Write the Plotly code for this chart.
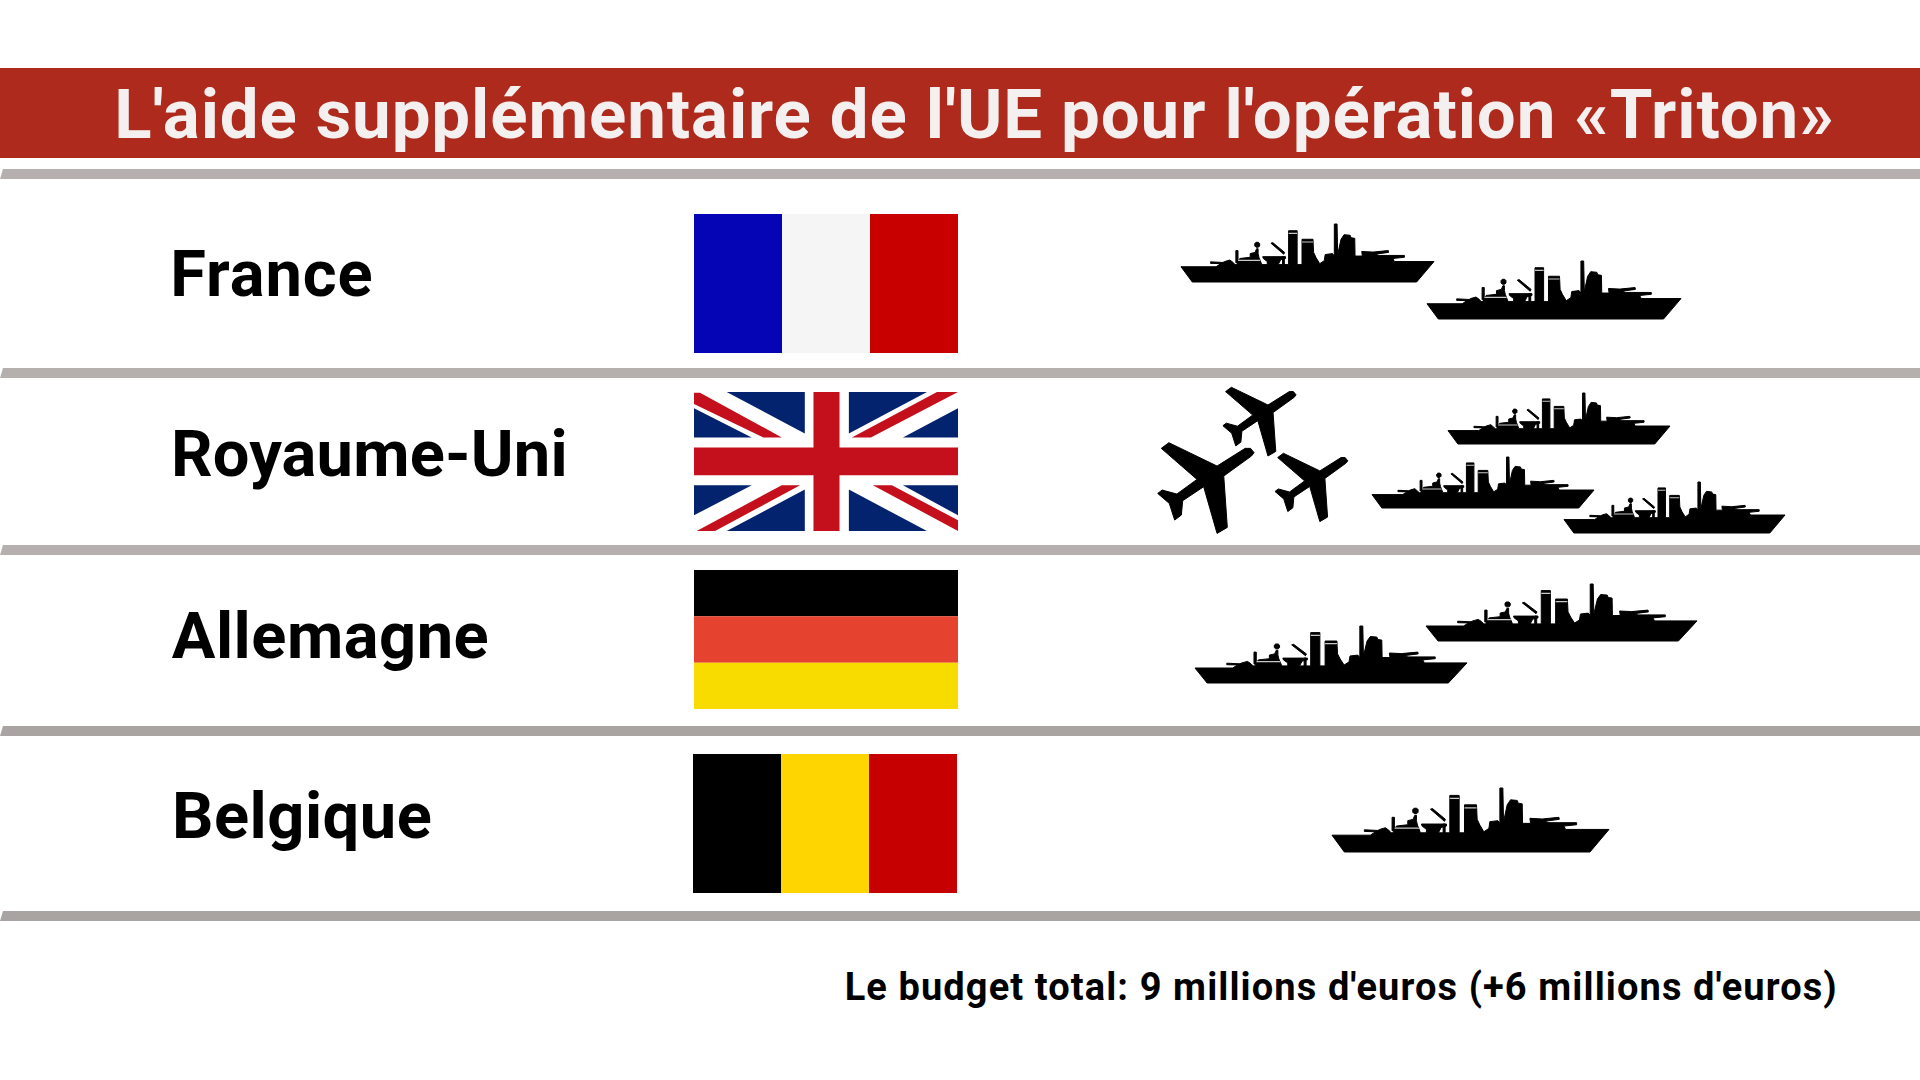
import plotly.graph_objects as go

# ---- content -------------------------------------------------------------
title_text = "L'aide supplémentaire de l'UE pour l'opération «Triton»"
countries = ["France", "Royaume-Uni", "Allemagne", "Belgique"]
ship_counts = [2, 3, 2, 1]
plane_counts = [0, 3, 0, 0]
footnote = "Le budget total: 9 millions d'euros (+6 millions d'euros)"

# ---- styles --------------------------------------------------------------
FONT = "Roboto"
RED_BAND = "#AD2A1C"
TITLE_COL = "#F5F0F0"
RULE_COLS = ["#B5B0AE", "#B5B0AE", "#B5B0AE", "#A9A4A2", "#A9A4A2"]

# ---- layout (pixel frame of the page) ------------------------------------
W, H = 1920, 1080
band_y = (68, 158)
rule_ys = [(169, 179), (368, 378), (545, 555), (726, 736), (911, 921)]
flag_boxes = [(694, 958, 214, 353), (694, 958, 392, 531), (694, 958, 570, 709), (693, 957, 754, 893)]
label_ys = [274, 454, 636, 816]
label_centers = [272, 369, 330, 302]
# (left, right, bottom, height)
ship_boxes = [
    [(1181, 1434, 282, 58), (1427, 1681, 319, 58)],
    [(1448, 1670, 444, 51), (1372, 1594, 508, 51), (1564, 1785, 533, 51)],
    [(1195, 1467, 683, 57), (1426, 1697, 641, 57)],
    [(1332, 1609, 852, 64)],
]
plane_boxes = [[], [(1157.7, 96.4, 442.7, 90.7), (1222.9, 73.2, 387.3, 68.7), (1275, 72.8, 453.3, 68.3)], [], []]

# ---- icon outlines -------------------------------------------------------
SHIP = [
    [(35, 165), (150, 165), (165, 155), (178, 148), (195, 143), (205, 150), (212, 158), (218, 158), (222, 150),
     (228, 138), (262, 134), (262, 122), (278, 118), (283, 106), (288, 106), (288, 122), (291, 135), (298, 150),
     (300, 158), (318, 158), (318, 148), (305, 138), (303, 132), (378, 132), (378, 138), (362, 142), (354, 158),
     (388, 158), (388, 47), (416, 47), (416, 158), (432, 158), (432, 75), (468, 75), (470, 118), (478, 135),
     (490, 155), (505, 145), (508, 125), (532, 122), (538, 130), (538, 25), (547, 25), (549, 125), (555, 100),
     (560, 75), (570, 60), (590, 62), (593, 70), (605, 72), (606, 130), (630, 130), (628, 115), (665, 117),
     (715, 112), (716, 118), (672, 124), (685, 128), (768, 128), (768, 134), (730, 138), (735, 148), (865, 148),
     (808, 215), (72, 215)],
    [(132, 149), (172, 151), (172, 155), (132, 154)],
    [(330, 88), (336, 86), (375, 118), (372, 124)],
    [(215, 112), (222, 112), (222, 152), (215, 152)],
    [(368, 132), (374, 132), (374, 158), (368, 158)],
    [(281, 85), (289, 85), (293, 89), (293, 97), (289, 101), (281, 101), (277, 97), (277, 89)],
]
SHIP_STRIPES = [
    [(388, 54), (416, 54), (416, 58), (388, 58)],
    [(432, 82), (468, 82), (468, 86), (432, 86)],
    [(224, 142), (294, 142), (296, 146), (222, 146)],
]
PLANE = [
    [(270, 235), (278, 248), (272, 258), (210, 318), (218, 472), (195, 490), (165, 350), (118, 392), (115, 435),
     (100, 450), (88, 400), (62, 370), (72, 360), (105, 372), (150, 328), (70, 235), (87, 218), (195, 288), (258, 235)],
]

UK = {
    "navy": [[(42, 36), (833, 36), (833, 452), (42, 452)]],
    "white": [
        [(42, 36), (140, 36), (374, 160), (374, 172), (215, 172), (42, 85)],
        [(506, 160), (740, 36), (833, 36), (833, 85), (668, 172), (506, 172)],
        [(506, 328), (506, 315), (668, 315), (833, 405), (833, 452), (740, 452)],
        [(42, 405), (215, 315), (374, 315), (374, 328), (140, 452), (42, 452)],
        [(374, 36), (506, 36), (506, 452), (374, 452)],
        [(42, 172), (833, 172), (833, 315), (42, 315)],
    ],
    "red": [
        [(42, 38), (60, 38), (305, 172), (250, 172), (42, 72)],
        [(515, 172), (770, 36), (833, 36), (572, 172)],
        [(578, 315), (635, 315), (833, 420), (833, 452)],
        [(50, 452), (305, 315), (360, 315), (105, 452)],
        [(400, 36), (478, 36), (478, 452), (400, 452)],
        [(42, 202), (833, 202), (833, 285), (42, 285)],
    ],
}
UK_COLS = {"navy": "#03236F", "white": "#FFFFFF", "red": "#C4101C"}
FLAG_STRIPES = {
    "France": ("v", ["#0505B5", "#F5F5F5", "#C80000"]),
    "Allemagne": ("h", ["#000000", "#E5422F", "#F8DC00"]),
    "Belgique": ("v", ["#000000", "#FFD500", "#C60000"]),
}


def add_polys(fig, polys, col, name, lw=0):
    xs, ys = [], []
    for p in polys:
        xs += [q[0] for q in p] + [p[0][0], None]
        ys += [q[1] for q in p] + [p[0][1], None]
    fig.add_trace(go.Scatter(x=xs, y=ys, mode="lines", fill="toself", fillcolor=col,
                             line=dict(width=lw, color=col), name=name, hoverinfo="skip", showlegend=False))


def place(polys, fx, fy):
    return [[(fx(a), fy(b)) for a, b in p] for p in polys]


fig = go.Figure()

# title band and rules
add_polys(fig, [[(0, band_y[0]), (W, band_y[0]), (W, band_y[1]), (0, band_y[1])]], RED_BAND, "band")
for (y0, y1), c in zip(rule_ys, RULE_COLS):
    add_polys(fig, [[(3, y0), (W, y0), (W, y1), (0, y1)]], c, "rule")

# flags
for name, (x0, x1, y0, y1) in zip(countries, flag_boxes):
    if name in FLAG_STRIPES:
        orient, cols = FLAG_STRIPES[name]
        for i, c in enumerate(cols):
            if orient == "v":
                a, b = x0 + (x1 - x0) * i / 3, x0 + (x1 - x0) * (i + 1) / 3
                add_polys(fig, [[(a, y0), (b, y0), (b, y1), (a, y1)]], c, name)
            else:
                a, b = y0 + (y1 - y0) * i / 3, y0 + (y1 - y0) * (i + 1) / 3
                add_polys(fig, [[(x0, a), (x1, a), (x1, b), (x0, b)]], c, name)
    else:
        fx = lambda v: x0 + (v - 42) / (833 - 42) * (x1 - x0)
        fy = lambda v: y0 + (v - 36) / (452 - 36) * (y1 - y0)
        for layer in ("navy", "white", "red"):
            add_polys(fig, place(UK[layer], fx, fy), UK_COLS[layer], name)

# ships and planes: as many as the counts say
for name, n_s, n_p, sboxes, pboxes in zip(countries, ship_counts, plane_counts, ship_boxes, plane_boxes):
    for x0, x1, yb, sh in sboxes[:n_s]:
        kx = (x1 - x0) / 830
        ky = sh / 190
        fx = lambda v: x0 + (v - 35) * kx
        fy = lambda v: yb - (215 - v) * ky
        add_polys(fig, place(SHIP, fx, fy), "#000000", name + " navire", lw=1)
        add_polys(fig, place(SHIP_STRIPES, fx, fy), "#C8C8C8", name + " navire")
    for x0, w, y0, h in pboxes[:n_p]:
        fx = lambda v: x0 + (v - 62) / 216 * w
        fy = lambda v: y0 + (v - 218) / 272 * h
        add_polys(fig, place(PLANE, fx, fy), "#000000", name + " avion", lw=1)

# text
anns = [dict(x=974, y=114, text="<b>%s</b>" % title_text, font=dict(family=FONT, size=69, color=TITLE_COL),
             xanchor="center", yanchor="middle", showarrow=False, xref="x", yref="y")]
for name, cx, cy in zip(countries, label_centers, label_ys):
    anns.append(dict(x=cx, y=cy, text="<b>%s</b>" % name, font=dict(family=FONT, size=65, color="#000"),
                     xanchor="center", yanchor="middle", showarrow=False, xref="x", yref="y"))
anns.append(dict(x=1341, y=987, text="<b>%s</b>" % footnote, font=dict(family=FONT, size=38, color="#000"),
                 xanchor="center", yanchor="middle", showarrow=False, xref="x", yref="y"))

axis = dict(visible=False, showgrid=False, zeroline=False, fixedrange=True)
fig.update_layout(width=W, height=H, margin=dict(l=0, r=0, t=0, b=0), paper_bgcolor="white", plot_bgcolor="white",
                  xaxis=dict(range=[0, W], **axis), yaxis=dict(range=[H, 0], **axis),
                  annotations=anns, showlegend=False)

SPACING = [0.9, 0.9, 0.2, 0.5, 0.5, 1.1]
post = "document.body.style.margin='0';document.body.style.overflow='hidden';" \
       "var sp=%s;document.querySelectorAll('.annotation-text').forEach(function(t,i){t.style.letterSpacing=sp[i]+'px';});" % SPACING
fig.write_html("out.html", config=dict(displayModeBar=False), post_script=post)
